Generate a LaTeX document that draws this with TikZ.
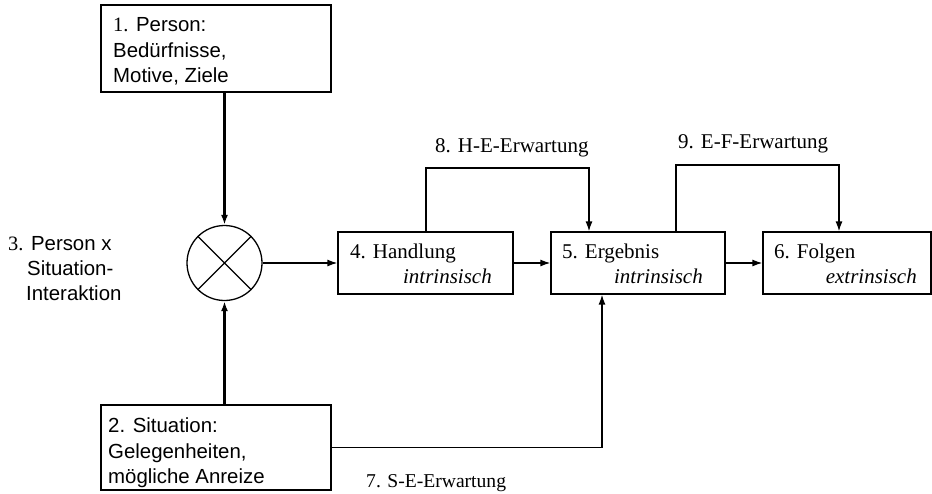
\documentclass[tikz,border=0pt]{standalone}
\usepackage{fontspec}
\setmainfont{Liberation Serif}
\newfontfamily\sansf{Liberation Sans}
\usetikzlibrary{arrows.meta}
\begin{document}
\begin{tikzpicture}[x=1pt,y=-1pt,
  box/.style={draw=black,line width=1.2pt,inner sep=0pt,fill=white},
  txt/.style={inner sep=0pt,font=\fontsize{21}{25}\selectfont},
  stxt/.style={inner sep=0pt,font=\sansf\fontsize{20.4}{25}\selectfont},
  conn/.style={line width=1.4pt,-{Latex[length=10pt,width=7pt]}},
  thick conn/.style={line width=2.4pt,-{Latex[length=10pt,width=7pt]}},
  loop/.style={line width=1.4pt}]
\useasboundingbox (0,0) rectangle (932,493);
% boxes
\node[box,minimum width=230pt,minimum height=87pt] (b1) at (216,48.5) {};
\node[box,minimum width=230pt,minimum height=85pt] (b2) at (216,447.5) {};
\node[box,minimum width=175pt,minimum height=62pt] (b4) at (425.5,263) {};
\node[box,minimum width=174pt,minimum height=62pt] (b5) at (638,263) {};
\node[box,minimum width=168pt,minimum height=62pt] (b6) at (847,263) {};
\node[draw=black,line width=1.3pt,circle,minimum size=75pt,inner sep=0pt] (c) at (224.5,263) {};
\draw[line width=1.2pt] (c.45) -- (c.225) (c.135) -- (c.315);
% box texts
\node[stxt,anchor=base west] (t1a) at (113,31) {{\rmfamily 1.} Person:};
\node[stxt,anchor=base west] (t1b) at (113,57) {Bedürfnisse,};
\node[stxt,anchor=base west] (t1c) at (113,82) {Motive, Ziele};
\node[stxt,anchor=base west] (t2a) at (108,432) {2. Situation:};
\node[stxt,anchor=base west] (t2b) at (108,458) {Gelegenheiten,};
\node[stxt,anchor=base west] (t2c) at (108,483) {mögliche Anreize};
\node[stxt,anchor=base west] (t3a) at (8,250) {{\rmfamily 3.} Person x};
\node[stxt,anchor=base west] (t3b) at (27,275) {Situation-};
\node[stxt,anchor=base west] (t3c) at (26,300) {Interaktion};
\node[txt,anchor=base west] (t4a) at (350,258) {4. Handlung};
\node[txt,anchor=base east] (t4b) at (492,283) {\textit{intrinsisch}};
\node[txt,anchor=base west] (t5a) at (562,258) {5. Ergebnis};
\node[txt,anchor=base east] (t5b) at (703,283) {\textit{intrinsisch}};
\node[txt,anchor=base west] (t6a) at (774,258) {6. Folgen};
\node[txt,anchor=base east] (t6b) at (917,283) {\textit{extrinsisch}};
% labels
\node[txt,anchor=base west] (l8) at (435,152) {8. H-E-Erwartung};
\node[txt,anchor=base west] (l9) at (678,148) {9. E-F-Erwartung};
\node[txt,anchor=base west,font=\fontsize{19.6}{23}\selectfont] (l7) at (366,487) {7. S-E-Erwartung};
% connectors
\draw[thick conn] (b1.south -| c) -- (c.north);
\draw[thick conn] (b2.north -| c) -- (c.south);
\draw[conn] (c.east) -- (b4.west);
\draw[conn] (b4.east) -- (b5.west);
\draw[conn] (b5.east) -- (b6.west);
\coordinate (h1) at (426,168);
\coordinate (h2) at (589,168);
\draw[conn] (b4.north -| h1) -- (h1) -- (h2) -- (b5.north -| h2);
\coordinate (e1) at (676,165);
\coordinate (e2) at (839,165);
\draw[conn] (b5.north -| e1) -- (e1) -- (e2) -- (b6.north -| e2);
\coordinate (s1) at (602,447.5);
\draw[conn] (b2.east) -- (s1) -- (b5.south -| s1);
\end{tikzpicture}
\end{document}
